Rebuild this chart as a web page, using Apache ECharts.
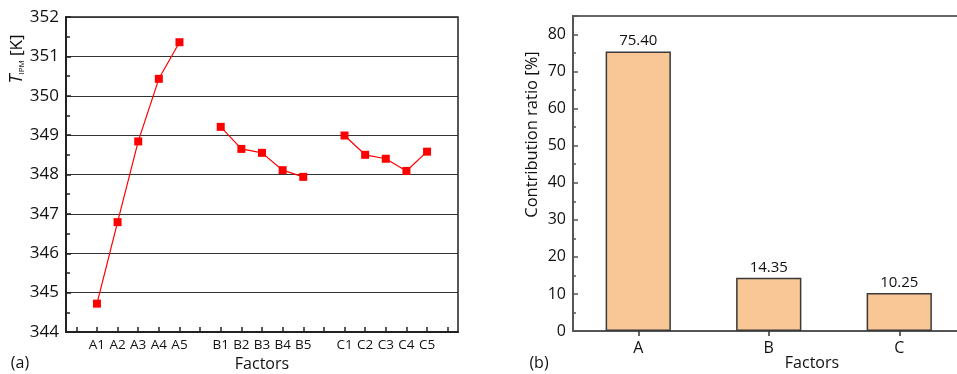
<!DOCTYPE html>
<html>
<head>
<meta charset="utf-8">
<script src="https://cdn.jsdelivr.net/npm/echarts@6/dist/echarts.min.js"></script>
<style>html,body{margin:0;padding:0;background:#fff;}#c{width:957px;height:374px;}</style>
</head>
<body>
<div id="c"></div>
<script>
// Panel (a): levels of each factor (blank entries separate the factor groups)
var levelCategories = ['', 'A1', 'A2', 'A3', 'A4', 'A5', '', 'B1', 'B2', 'B3', 'B4', 'B5', '', 'C1', 'C2', 'C3', 'C4', 'C5', ''];
var tipmValues = [null, 344.72, 346.79, 348.84, 350.43, 351.36, null, 349.21, 348.65, 348.55, 348.11, 347.94, null, 348.99, 348.50, 348.40, 348.09, 348.58, null];
// Panel (b): contribution ratio of each factor
var factorCategories = ['A', 'B', 'C'];
var contributionValues = [75.40, 14.35, 10.25];

var FONT = 'Open Sans';
var chart = echarts.init(document.getElementById('c'), null, {renderer: 'canvas'});
chart.setOption({
  animation: false,
  textStyle: {fontFamily: FONT},
  grid: [
    {left: 66, top: 17, width: 392, height: 315, show: true, borderColor: '#222', borderWidth: 1.5, backgroundColor: 'transparent', outerBoundsMode: 'none', containLabel: false},
    {left: 573, top: 16, width: 391.5, height: 315, show: true, borderColor: '#666', borderWidth: 2, backgroundColor: 'transparent', outerBoundsMode: 'none', containLabel: false}
  ],
  xAxis: [
    {
      type: 'category', gridIndex: 0, data: levelCategories, boundaryGap: true,
      axisLine: {lineStyle: {color: '#222', width: 2}},
      axisTick: {show: true, alignWithLabel: true, interval: 0, inside: true, length: 5, lineStyle: {color: '#222', width: 1.5}},
      axisLabel: {interval: 0, color: '#111', fontSize: 13.5, fontFamily: FONT, margin: 6},
      splitLine: {show: false},
      name: 'Factors', nameLocation: 'middle', nameGap: 24,
      nameTextStyle: {color: '#111', fontSize: 16, fontFamily: FONT}
    },
    {
      type: 'category', gridIndex: 1, data: factorCategories, boundaryGap: true,
      axisLine: {lineStyle: {color: '#555', width: 2}},
      axisTick: {show: true, alignWithLabel: true, length: 5, lineStyle: {color: '#333', width: 1.5}},
      axisLabel: {color: '#111', fontSize: 16, fontFamily: FONT, margin: 9},
      splitLine: {show: false}
    }
  ],
  yAxis: [
    {
      type: 'value', gridIndex: 0, min: 344, max: 352, interval: 1,
      axisLine: {show: true, lineStyle: {color: '#222', width: 2}},
      axisTick: {show: true, inside: true, length: 5, lineStyle: {color: '#222', width: 1.5}},
      minorTick: {show: true, splitNumber: 2, length: 4, lineStyle: {color: '#222', width: 1.5}},
      axisLabel: {color: '#111', fontSize: 17, fontFamily: FONT, margin: 7},
      splitLine: {show: true, lineStyle: {color: '#333', width: 1.2}}
    },
    {
      type: 'value', gridIndex: 1, min: 0, max: 85, interval: 10,
      axisLine: {show: true, lineStyle: {color: '#555', width: 2}},
      axisTick: {show: true, inside: true, length: 5, lineStyle: {color: '#555', width: 1.5}},
      minorTick: {show: true, splitNumber: 2, length: 3, lineStyle: {color: '#555', width: 1.5}},
      axisLabel: {color: '#111', fontSize: 16, fontFamily: FONT, margin: 7, showMaxLabel: false},
      splitLine: {show: false}
    }
  ],
  series: [
    {
      type: 'line', xAxisIndex: 0, yAxisIndex: 0, data: tipmValues, connectNulls: false,
      symbol: 'rect', symbolSize: 8,
      lineStyle: {color: '#ff0000', width: 1.2},
      itemStyle: {color: '#ff0000'}
    },
    {
      type: 'bar', xAxisIndex: 1, yAxisIndex: 1, data: contributionValues, barWidth: '50%',
      itemStyle: {color: '#F9C795', borderColor: '#3a3a3a', borderWidth: 1.5},
      label: {show: true, position: 'top', distance: 3, color: '#111', fontSize: 15, fontFamily: FONT,
        formatter: function (p) { return p.value.toFixed(2); }}
    }
  ],
  graphic: [
    {type: 'text', x: 17, y: 59, rotation: Math.PI / 2,
      style: {text: '{i|T}{s|IPM}{n| [K]}', align: 'center', verticalAlign: 'middle',
        rich: {
          i: {fontStyle: 'italic', fontSize: 18, fontFamily: FONT, fill: '#111'},
          s: {fontSize: 8, fontFamily: FONT, fill: '#111', verticalAlign: 'bottom', padding: [8, 0, 0, 0]},
          n: {fontSize: 17, fontFamily: FONT, fill: '#111'}
        }}},
    {type: 'text', x: 532, y: 134.5, rotation: Math.PI / 2,
      style: {text: 'Contribution ratio [%]', align: 'center', verticalAlign: 'middle', fontSize: 16.5, fontFamily: FONT, fill: '#111'}},
    {type: 'text', x: 812, y: 363,
      style: {text: 'Factors', align: 'center', verticalAlign: 'middle', fontSize: 16, fontFamily: FONT, fill: '#111'}},
    {type: 'text', x: 20, y: 363,
      style: {text: '(a)', align: 'center', verticalAlign: 'middle', fontSize: 16, fontFamily: FONT, fill: '#111'}},
    {type: 'text', x: 539, y: 363,
      style: {text: '(b)', align: 'center', verticalAlign: 'middle', fontSize: 16, fontFamily: FONT, fill: '#111'}}
  ]
});
</script>
</body>
</html>
